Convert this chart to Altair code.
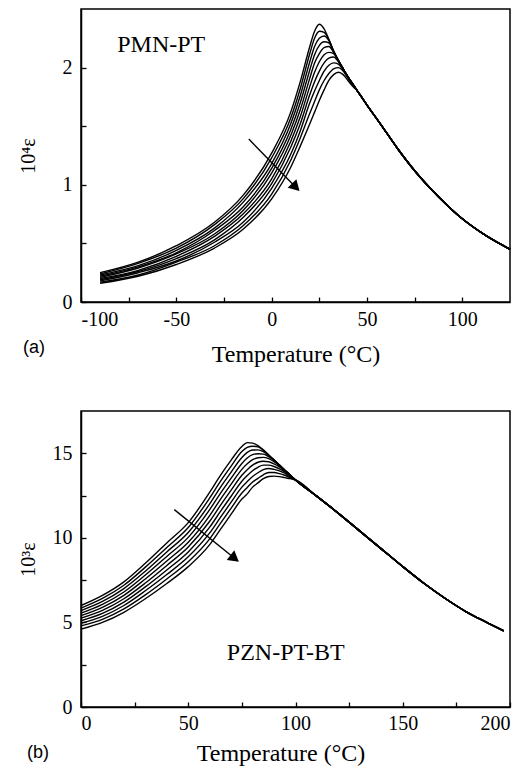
import altair as alt
import pandas as pd

# ---------------- Panel (a): PMN-PT ----------------
A_TEMPS = [-90, -70, -50, -30, -15, 0, 10, 15, 20, 22.5, 25, 27.5, 30, 32.5, 35, 37.5, 40, 42.5, 45]
A_TAIL_TEMPS = [50, 57, 66, 75, 88, 100, 112, 125]
A_TAIL_EPS = [1.68, 1.52, 1.31, 1.12, 0.89, 0.71, 0.57, 0.45]

a_eps_1 = [0.25, 0.34, 0.48, 0.68, 0.91, 1.27, 1.62, 1.88, 2.18, 2.31, 2.37, 2.33, 2.24, 2.14, 2.06, 1.99, 1.92, 1.86, 1.80]
a_eps_2 = [0.24, 0.33, 0.46, 0.66, 0.88, 1.23, 1.57, 1.82, 2.12, 2.25, 2.31, 2.30, 2.24, 2.14, 2.06, 1.99, 1.92, 1.86, 1.80]
a_eps_3 = [0.23, 0.31, 0.44, 0.63, 0.85, 1.18, 1.52, 1.76, 2.05, 2.18, 2.25, 2.27, 2.23, 2.14, 2.06, 1.99, 1.92, 1.86, 1.80]
a_eps_4 = [0.22, 0.30, 0.42, 0.61, 0.81, 1.14, 1.47, 1.70, 1.98, 2.11, 2.19, 2.22, 2.21, 2.14, 2.06, 1.99, 1.92, 1.86, 1.80]
a_eps_5 = [0.21, 0.29, 0.41, 0.58, 0.78, 1.10, 1.42, 1.64, 1.91, 2.04, 2.12, 2.17, 2.18, 2.13, 2.06, 1.99, 1.92, 1.86, 1.80]
a_eps_6 = [0.20, 0.27, 0.39, 0.56, 0.75, 1.05, 1.37, 1.58, 1.84, 1.96, 2.05, 2.11, 2.13, 2.12, 2.06, 1.99, 1.92, 1.86, 1.80]
a_eps_7 = [0.19, 0.26, 0.37, 0.53, 0.72, 1.01, 1.32, 1.52, 1.77, 1.88, 1.97, 2.04, 2.08, 2.09, 2.05, 1.99, 1.92, 1.86, 1.80]
a_eps_8 = [0.18, 0.25, 0.35, 0.51, 0.68, 0.97, 1.26, 1.46, 1.70, 1.80, 1.89, 1.97, 2.02, 2.04, 2.03, 1.98, 1.92, 1.86, 1.80]
a_eps_9 = [0.17, 0.23, 0.34, 0.48, 0.65, 0.92, 1.21, 1.40, 1.61, 1.71, 1.81, 1.89, 1.95, 1.99, 2.00, 1.97, 1.91, 1.85, 1.80]
a_eps_10 = [0.16, 0.22, 0.32, 0.46, 0.62, 0.88, 1.15, 1.33, 1.52, 1.62, 1.72, 1.81, 1.89, 1.94, 1.96, 1.94, 1.89, 1.84, 1.80]
A_CURVES = [a_eps_1, a_eps_2, a_eps_3, a_eps_4, a_eps_5, a_eps_6, a_eps_7, a_eps_8, a_eps_9, a_eps_10]

A_ARROW_T = [-12, 12]
A_ARROW_EPS = [1.39, 0.99]
A_NAME = "PMN-PT"
A_NAME_T = [-81]
A_NAME_EPS = [2.19]

# ---------------- Panel (b): PZN-PT-BT ----------------
B_TEMPS = [0, 10, 20, 30, 40, 50, 60, 65, 70, 75, 77.5, 80, 82.5, 85, 87.5, 90, 92.5, 95, 97.5, 100]
B_TAIL_TEMPS = [110, 120, 130, 140, 150, 160, 170, 180, 190, 197]
B_TAIL_EPS = [12.45, 11.45, 10.4, 9.35, 8.3, 7.3, 6.4, 5.6, 4.95, 4.5]

b_eps_1 = [6.0, 6.6, 7.4, 8.5, 9.7, 10.9, 12.7, 13.7, 14.6, 15.4, 15.63, 15.6, 15.45, 15.2, 14.9, 14.6, 14.3, 14.0, 13.72, 13.42]
b_eps_2 = [5.85, 6.42, 7.2, 8.27, 9.43, 10.61, 12.36, 13.34, 14.24, 15.1, 15.35, 15.42, 15.38, 15.18, 14.9, 14.6, 14.3, 14.0, 13.72, 13.42]
b_eps_3 = [5.7, 6.24, 7.0, 8.03, 9.17, 10.32, 12.01, 12.99, 13.89, 14.75, 15.05, 15.19, 15.2, 15.1, 14.87, 14.6, 14.3, 14.0, 13.72, 13.42]
b_eps_4 = [5.55, 6.07, 6.8, 7.8, 8.9, 10.03, 11.67, 12.63, 13.53, 14.4, 14.72, 14.92, 14.97, 14.95, 14.8, 14.58, 14.3, 14.0, 13.72, 13.42]
b_eps_5 = [5.4, 5.89, 6.6, 7.57, 8.63, 9.74, 11.32, 12.28, 13.18, 14.05, 14.38, 14.62, 14.74, 14.76, 14.68, 14.5, 14.27, 14.0, 13.72, 13.42]
b_eps_6 = [5.25, 5.71, 6.4, 7.33, 8.37, 9.46, 10.98, 11.92, 12.82, 13.7, 14.03, 14.3, 14.47, 14.53, 14.5, 14.38, 14.2, 13.96, 13.7, 13.42]
b_eps_7 = [5.1, 5.53, 6.2, 7.1, 8.1, 9.17, 10.63, 11.56, 12.46, 13.35, 13.68, 13.97, 14.17, 14.3, 14.3, 14.22, 14.08, 13.9, 13.66, 13.42]
b_eps_8 = [4.95, 5.36, 6.0, 6.87, 7.83, 8.88, 10.29, 11.21, 12.11, 13.0, 13.33, 13.63, 13.85, 14.03, 14.1, 14.05, 13.96, 13.82, 13.6, 13.42]
b_eps_9 = [4.8, 5.18, 5.8, 6.63, 7.57, 8.59, 9.94, 10.86, 11.76, 12.65, 12.98, 13.3, 13.52, 13.73, 13.86, 13.86, 13.8, 13.7, 13.55, 13.42]
b_eps_10 = [4.6, 5.0, 5.6, 6.4, 7.3, 8.3, 9.6, 10.5, 11.4, 12.3, 12.6, 13.0, 13.25, 13.5, 13.63, 13.65, 13.62, 13.56, 13.5, 13.42]
B_CURVES = [b_eps_1, b_eps_2, b_eps_3, b_eps_4, b_eps_5, b_eps_6, b_eps_7, b_eps_8, b_eps_9, b_eps_10]

B_ARROW_T = [43.5, 71]
B_ARROW_EPS = [11.67, 8.85]
B_NAME = "PZN-PT-BT"
B_NAME_T = [68]
B_NAME_EPS = [3.2]

SERIF = "Liberation Serif"


def build_panel(curves, temps, tail_t, tail_v, xdom, ydom, xmajor, xminor, ymajor, yminor,
                ytitle, name, name_t, name_v, arrow_t, arrow_v, head_angle, tag, tag_x,
                w, h, x_label_pad, x_title_pad, title_shift):
    rows = []
    for i, c in enumerate(curves):
        for t, v in zip(list(temps) + list(tail_t), list(c) + list(tail_v)):
            rows.append({"curve": i, "T": t, "eps": v})
    df = pd.DataFrame(rows)
    xs = alt.Scale(domain=xdom, nice=False, zero=False)
    ys = alt.Scale(domain=ydom, nice=False, zero=False)

    lines = alt.Chart(df).mark_line(color="black", strokeWidth=1.4, interpolate="monotone").encode(
        x=alt.X("T:Q", scale=xs, axis=alt.Axis(
            orient="bottom", values=xmajor, labelExpr="'' + datum.value",
            title="Temperature (°C)", ticks=False, tickSize=0,
            labelFont=SERIF, labelFontSize=20, titleFont=SERIF,
            labelPadding=x_label_pad, titlePadding=x_title_pad, titleFontSize=24,
            titleX=w / 2 + title_shift)),
        y=alt.Y("eps:Q", scale=ys, axis=alt.Axis(
            orient="left", values=ymajor, title=ytitle, ticks=False, tickSize=0,
            labelFont=SERIF, labelFontSize=20, titleFont=SERIF,
            labelPadding=9, minExtent=30, maxExtent=30, titlePadding=13, titleFontSize=20)),
        detail="curve:N",
    )

    adf = pd.DataFrame({"T": arrow_t, "eps": arrow_v})
    arrow_line = alt.Chart(adf).mark_line(color="black", strokeWidth=1.4).encode(
        x=alt.X("T:Q", scale=xs, axis=alt.Axis(
            orient="bottom", values=xminor, labels=False, domain=False, ticks=True,
            tickSize=5, offset=-5, title=None, tickColor="black", tickWidth=1.3)),
        y=alt.Y("eps:Q", scale=ys, axis=alt.Axis(
            orient="left", values=yminor, labels=False, domain=False, ticks=True,
            tickSize=5, offset=-5, title=None, tickColor="black", tickWidth=1.3)),
    )
    hdf = pd.DataFrame({"T": arrow_t[-1:], "eps": arrow_v[-1:]})
    arrow_head = alt.Chart(hdf).mark_point(shape="triangle", filled=True, size=150,
                                           angle=head_angle, color="black", opacity=1).encode(
        x=alt.X("T:Q", scale=xs, axis=None),
        y=alt.Y("eps:Q", scale=ys, axis=None),
    )
    ndf = pd.DataFrame({"T": name_t, "eps": name_v, "label": [name]})
    name_text = alt.Chart(ndf).mark_text(font=SERIF, fontSize=24, align="left",
                                         baseline="middle", color="black").encode(
        x=alt.X("T:Q", scale=xs, axis=None),
        y=alt.Y("eps:Q", scale=ys, axis=None),
        text="label:N",
    )
    tdf = pd.DataFrame({"tag": [tag]})
    tag_text = alt.Chart(tdf).mark_text(font="Liberation Sans", fontSize=18, align="left",
                                        baseline="middle", color="black").encode(
        x=alt.value(tag_x), y=alt.value(h + 46), text="tag:N",
    )
    return alt.layer(lines, arrow_line, arrow_head, name_text, tag_text).resolve_axis(
        x="independent", y="independent").properties(width=w, height=h)


W = 429
panel_a = build_panel(
    A_CURVES, A_TEMPS, A_TAIL_TEMPS, A_TAIL_EPS, [-100, 125], [0, 2.5],
    [-100, -50, 0, 50, 100], [-100, -75, -50, -25, 0, 25, 50, 75, 100],
    [0, 1, 2], [0, 0.5, 1, 1.5, 2],
    "10⁴ε", A_NAME, A_NAME_T, A_NAME_EPS, A_ARROW_T, A_ARROW_EPS, 135, "(a)", -58,
    W, 293, 7, 13, 0)

panel_b = build_panel(
    B_CURVES, B_TEMPS, B_TAIL_TEMPS, B_TAIL_EPS, [0, 200], [0, 17.5],
    [0, 50, 100, 150, 200], [0, 25, 50, 75, 100, 125, 150, 175, 200],
    [0, 5, 10, 15], [0, 2.5, 5, 7.5, 10, 12.5, 15],
    "10³ε", B_NAME, B_NAME_T, B_NAME_EPS, B_ARROW_T, B_ARROW_EPS, 128, "(b)", -54,
    W, 296, 6, 8, -15)

chart = alt.vconcat(panel_a, panel_b, spacing=43).properties(
    padding={"left": 9, "top": 0, "right": 5, "bottom": 0}
).configure_view(
    stroke="black", strokeWidth=1.5
).configure_axis(
    domainColor="black", domainWidth=1.5, labelFont=SERIF, labelFontSize=20,
    labelColor="black", titleFont=SERIF, titleFontWeight="normal", titleColor="black",
    grid=False
)

chart.save("out.html", embed_options={"renderer": "svg", "actions": False})
